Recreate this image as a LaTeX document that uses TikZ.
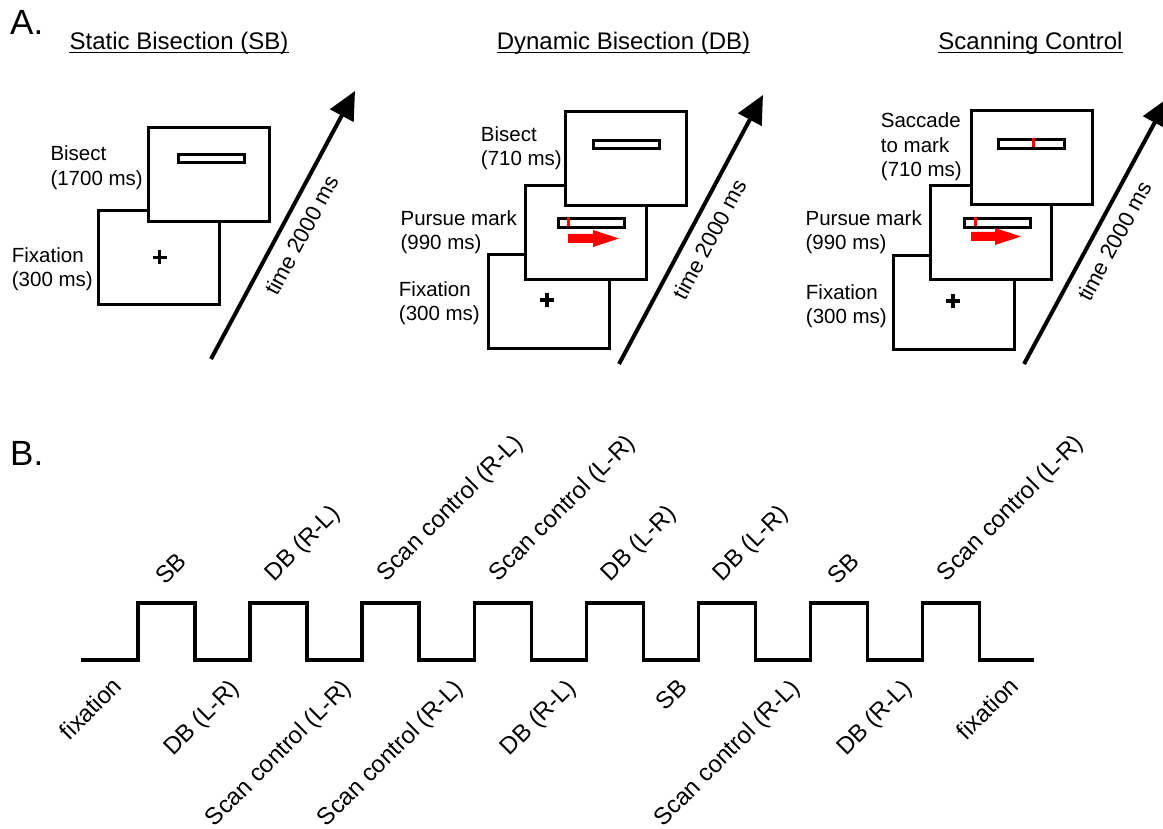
\documentclass[tikz,border=0pt]{standalone}
\usepackage{fontspec}
\setmainfont{Liberation Sans}
\usetikzlibrary{arrows.meta}
\begin{document}
\begin{tikzpicture}[x=1pt,y=-1pt,
  frame/.style={draw, line width=3pt, fill=white, minimum width=121pt, minimum height=94pt, inner sep=0pt, anchor=north west},
  bar/.style={draw, line width=2.6pt, fill=white, minimum width=66pt, minimum height=8.5pt, inner sep=0pt, anchor=north west},
  lab/.style={font=\fontsize{20.5}{24.5}\selectfont, inner sep=0pt, align=left, anchor=east},
  ttl/.style={font=\fontsize{24}{28}\selectfont, inner sep=0pt, anchor=base},
  uline/.style={line width=1.6pt},
  big/.style={font=\fontsize{35}{40}\selectfont, inner sep=0pt, anchor=base west},
  plusmark/.style={line width=3.5pt},
  redmark/.style={draw=red, line width=3pt},
  redarrow/.style={fill=red},
  tarrow/.style={line width=4pt, -{Triangle[length=28pt,width=26pt]}},
  tlab/.style={midway, sloped, below, font=\fontsize{22}{26}\selectfont, inner xsep=0pt, inner ysep=13pt, outer sep=0pt},
  wave/.style={line width=3.5pt, line join=miter},
  toplab/.style={font=\fontsize{24}{28}\selectfont, inner sep=0pt, rotate=45, anchor=south west},
  botlab/.style={font=\fontsize{24}{28}\selectfont, inner sep=0pt, rotate=45, anchor=north east}
]
\useasboundingbox (0,0) rectangle (1163,829);

% ---------- Panel labels ----------
\node[big] (A) at (10,35) {A.};
\node[big] (B) at (10,465) {B.};

% ---------- Titles ----------
\node[ttl] (t1) at (179,49.5) {Static Bisection (SB)};
\draw[uline] ([yshift=-3pt]t1.base west) -- ([yshift=-3pt]t1.base east);
\node[ttl] (t2) at (623.5,49.5) {Dynamic Bisection (DB)};
\draw[uline] ([yshift=-3pt]t2.base west) -- ([yshift=-3pt]t2.base east);
\node[ttl] (t3) at (1030.5,49.5) {Scanning Control};
\draw[uline] ([yshift=-3pt]t3.base west) -- ([yshift=-3pt]t3.base east);

% ---------- SB panel ----------
\node[frame] (sbfix) at (97,209) {};
\node[frame] (sbbis) at (147,126) {};
\node[bar] (sbbar) at (177,153) {};
\draw[plusmark] (152.5,257.5) -- (166.5,257.5) (159.5,250.5) -- (159.5,264.5);
\node[lab] (sbl1) at (143,167.5) {Bisect\\(1700 ms)};
\node[lab] (sbl2) at (93,269) {Fixation\\(300 ms)};
\coordinate (sba0) at (211,359);
\coordinate (sba1) at (355,91);
\draw[tarrow] (sba0) -- node[tlab] (sbtime) {time 2000 ms} (sba1);

% ---------- DB panel ----------
\node[frame] (dbfix) at (487,253) {};
\node[frame] (dbpur) at (524,184) {};
\node[frame] (dbbis) at (564,110) {};
\node[bar] (dbbar1) at (592,139) {};
\node[bar] (dbbar2) at (557,217.5) {};
\draw[redmark] (568,217.5) -- (568,226);
\fill[redarrow] (568,234) -- (593,234) -- (593,230) -- (619,238.5) -- (593,247) -- (593,243) -- (568,243) -- cycle;
\draw[plusmark] (540,300) -- (554,300) (547,293) -- (547,307);
\node[lab] (dbl1) at (562,148) {Bisect\\(710 ms)};
\node[lab] (dbl2) at (517,232) {Pursue mark\\(990 ms)};
\node[lab] (dbl3) at (480,303) {Fixation\\(300 ms)};
\coordinate (dba0) at (619,364);
\coordinate (dba1) at (763,95);
\draw[tarrow] (dba0) -- node[tlab] (dbtime) {time 2000 ms} (dba1);

% ---------- Scanning control panel ----------
\node[frame] (scfix) at (892,254) {};
\node[frame] (scpur) at (929,184) {};
\node[frame] (scsac) at (970,109) {};
\node[bar] (scbar1) at (997,138.5) {};
\draw[redmark] (1033,138.5) -- (1033,147);
\node[bar] (scbar2) at (963,217.5) {};
\draw[redmark] (975,217.5) -- (975,226);
\fill[redarrow] (971,232) -- (995,232) -- (995,228) -- (1021,236.5) -- (995,245) -- (995,241) -- (971,241) -- cycle;
\draw[plusmark] (946,301) -- (960,301) (953,294) -- (953,308);
\node[lab] (scl1) at (962,147) {Saccade\\to mark\\(710 ms)};
\node[lab] (scl2) at (922,232) {Pursue mark\\(990 ms)};
\node[lab] (scl3) at (887,306) {Fixation\\(300 ms)};
\coordinate (sca0) at (1024,364);
\coordinate (sca1) at (1168,98);
\draw[tarrow] (sca0) -- node[tlab] (sctime) {time 2000 ms} (sca1);

% ---------- Panel B waveform ----------
\draw[wave] (81,660) foreach \k in {0,...,7} {
  -- ({138+112.1*\k},660) -- ({138+112.1*\k},603) -- ({195+112.1*\k},603) -- ({195+112.1*\k},660)
} -- (1034,660);

% top labels (pulses)
\node[toplab] (p0) at (165.5,586) {SB};
\node[toplab] (p1) at (277.6,586) {DB (R-L)};
\node[toplab] (p2) at (389.7,586) {Scan control (R-L)};
\node[toplab] (p3) at (501.8,586) {Scan control (L-R)};
\node[toplab] (p4) at (613.9,586) {DB (L-R)};
\node[toplab] (p5) at (726.0,586) {DB (L-R)};
\node[toplab] (p6) at (838.1,586) {SB};
\node[toplab] (p7) at (950.2,586) {Scan control (L-R)};

% bottom labels (gaps)
\node[botlab] (g0) at (111,675) {fixation};
\node[botlab] (g1) at (228.1,677) {DB (L-R)};
\node[botlab] (g2) at (340.2,677) {Scan control (L-R)};
\node[botlab] (g3) at (452.3,677) {Scan control (R-L)};
\node[botlab] (g4) at (564.4,677) {DB (R-L)};
\node[botlab] (g5) at (676.5,677) {SB};
\node[botlab] (g6) at (788.6,677) {Scan control (R-L)};
\node[botlab] (g7) at (900.7,677) {DB (R-L)};
\node[botlab] (g8) at (1007.8,675) {fixation};
\end{tikzpicture}
\end{document}
